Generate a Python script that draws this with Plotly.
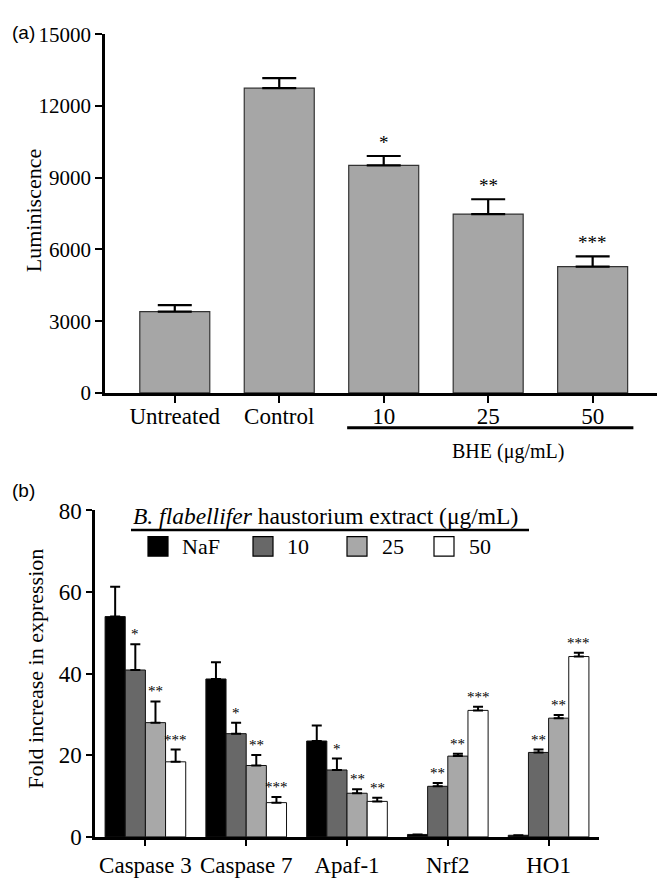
import plotly.graph_objects as go

# ---- Panel (a) data ----
a_categories = ["Untreated", "Control", "10", "25", "50"]
a_values = [3400, 12750, 9520, 7480, 5280]
a_errors = [270, 420, 390, 620, 430]
a_stars = ["", "", "*", "**", "***"]

# ---- Panel (b) data ----
b_genes = ["Caspase 3", "Caspase 7", "Apaf-1", "Nrf2", "HO1"]
b_series = ["NaF", "10", "25", "50"]
b_values = {
    "NaF": [54.0, 38.7, 23.5, 0.6, 0.4],
    "10": [40.9, 25.3, 16.4, 12.4, 20.7],
    "25": [28.0, 17.5, 10.7, 19.8, 29.1],
    "50": [18.4, 8.4, 8.7, 31.0, 44.2],
}
b_errors = {
    "NaF": [7.3, 4.1, 3.8, 0.0, 0.0],
    "10": [6.3, 2.7, 2.8, 0.8, 0.7],
    "25": [5.2, 2.6, 1.0, 0.6, 0.8],
    "50": [3.0, 1.4, 0.9, 0.9, 0.9],
}
b_stars = {
    "NaF": ["", "", "", "", ""],
    "10": ["*", "*", "*", "**", "**"],
    "25": ["**", "**", "**", "**", "**"],
    "50": ["***", "***", "**", "***", "***"],
}
b_colors = {"NaF": "#000000", "10": "#686868", "25": "#a8a8a8", "50": "#ffffff"}

SERIF = "Liberation Serif"
SANS = "Liberation Sans"

fig = go.Figure()

# Panel (a)
xa = list(range(len(a_categories)))
fig.add_trace(go.Bar(
    x=xa, y=a_values, xaxis="x", yaxis="y",
    marker=dict(color="#a6a6a6", line=dict(color="#333333", width=1.2)),
    error_y=dict(type="data", array=a_errors, arrayminus=[0] * 5, symmetric=False,
                 color="black", thickness=2.2, width=17),
    width=0.67, showlegend=False,
))

annotations = []
for i, s in enumerate(a_stars):
    if s:
        annotations.append(dict(x=xa[i], y=a_values[i] + a_errors[i], xref="x", yref="y",
                                text=s, showarrow=False, yanchor="bottom", yshift=1,
                                font=dict(family=SERIF, size=19, color="black")))

# Panel (b)
xb = list(range(len(b_genes)))
offsets = [-0.3, -0.1, 0.1, 0.3]
for k, name in enumerate(b_series):
    xs = [x + offsets[k] for x in xb]
    errs = b_errors[name]
    fig.add_trace(go.Bar(
        x=xs, y=b_values[name], xaxis="x2", yaxis="y2", name=name,
        marker=dict(color=b_colors[name], line=dict(color="#111111", width=1)),
        error_y=dict(type="data", array=errs, arrayminus=[0] * 5, symmetric=False,
                     color="black", thickness=2, width=5),
        width=0.2, showlegend=False,
    ))
    for i, s in enumerate(b_stars[name]):
        if s:
            annotations.append(dict(x=xs[i], y=b_values[name][i] + errs[i], xref="x2", yref="y2",
                                    text=s, showarrow=False, yanchor="bottom", yshift=0,
                                    font=dict(family=SERIF, size=15, color="black")))

# Panel labels
annotations.append(dict(x=10 / 657, y=1 - 21 / 881, xref="paper", yref="paper", text="(a)",
                        showarrow=False, xanchor="left", yanchor="middle",
                        font=dict(family=SANS, size=19, color="black")))
annotations.append(dict(x=10 / 657, y=1 - 492 / 881, xref="paper", yref="paper", text="(b)",
                        showarrow=False, xanchor="left", yanchor="middle",
                        font=dict(family=SANS, size=19, color="black")))

# Axis titles (as rotated annotations for exact placement)
annotations.append(dict(x=33 / 657, y=1 - 205 / 881, xref="paper", yref="paper",
                        text="Luminiscence", textangle=-90, showarrow=False,
                        xanchor="center", yanchor="middle",
                        font=dict(family=SERIF, size=22, color="black")))
annotations.append(dict(x=36 / 657, y=1 - 676 / 881, xref="paper", yref="paper",
                        text="Fold increase in expression", textangle=-90, showarrow=False,
                        xanchor="center", yanchor="middle",
                        font=dict(family=SERIF, size=22, color="black")))

# BHE label
annotations.append(dict(x=508 / 657, y=1 - 452 / 881, xref="paper", yref="paper",
                        text="BHE (μg/mL)", showarrow=False, xanchor="center", yanchor="middle",
                        font=dict(family=SERIF, size=20, color="black")))

# Legend title for (b)
annotations.append(dict(x=131 / 657, y=1 - 519 / 881, xref="paper", yref="paper",
                        text="<i>B. flabellifer</i> haustorium extract (μg/mL)", showarrow=False,
                        xanchor="left", yanchor="middle",
                        font=dict(family=SERIF, size=23.5, color="black")))

shapes = []
# BHE bracket line
shapes.append(dict(type="line", xref="x", yref="paper", x0=1.65, x1=4.39,
                   y0=1 - 428 / 881, y1=1 - 428 / 881, line=dict(color="black", width=3)))
# legend underline
shapes.append(dict(type="line", xref="paper", yref="paper", x0=131 / 657, x1=529 / 657,
                   y0=1 - 533 / 881, y1=1 - 533 / 881, line=dict(color="black", width=2.5)))

# Manual legend boxes
legend_box_x = [148, 253, 347, 434]
legend_text_x = [180, 285, 380, 467]
for k, name in enumerate(b_series):
    bx = legend_box_x[k]
    shapes.append(dict(type="rect", xref="paper", yref="paper",
                       x0=bx / 657, x1=(bx + 20) / 657, y0=1 - 560 / 881, y1=1 - 540 / 881,
                       fillcolor=b_colors[name], line=dict(color="black", width=1.2)))
    annotations.append(dict(x=legend_text_x[k] / 657, y=1 - 550 / 881, xref="paper", yref="paper",
                            text=name, showarrow=False, xanchor="left", yanchor="middle",
                            font=dict(family=SERIF, size=22, color="black")))

fig.update_layout(
    width=657, height=881,
    margin=dict(l=0, r=0, t=0, b=0),
    paper_bgcolor="white", plot_bgcolor="white",
    bargap=0.2,
    font=dict(family=SERIF, color="black"),
    xaxis=dict(domain=[105 / 657, 1.0], range=[-0.668, 4.616], tickvals=xa, ticktext=a_categories,
               showline=True, linecolor="black", linewidth=2.5, ticks="outside", ticklen=7,
               tickwidth=2, tickcolor="black", showgrid=False, zeroline=False,
               ticklabelstandoff=-6,
               tickfont=dict(family=SERIF, size=23), anchor="y", fixedrange=True),
    yaxis=dict(domain=[1 - 392 / 881, 1 - 23 / 881], range=[0, 15000],
               tickvals=[0, 3000, 6000, 9000, 12000, 15000], tickformat="d",
               showline=True, linecolor="black", linewidth=2.5, ticks="outside", ticklen=7,
               tickwidth=2, tickcolor="black", showgrid=False, zeroline=False,
               tickfont=dict(family=SERIF, size=21), anchor="x"),
    xaxis2=dict(domain=[95 / 657, 599 / 657], range=[-0.5, 4.5], tickvals=xb, ticktext=b_genes,
                showline=True, linecolor="black", linewidth=2.5, ticks="outside", ticklen=6,
                tickwidth=2, tickcolor="black", showgrid=False, zeroline=False,
                tickfont=dict(family=SERIF, size=23), anchor="y2"),
    yaxis2=dict(domain=[1 - 849 / 881, 1 - 513 / 881], range=[0, 80],
                tickvals=[0, 20, 40, 60, 80],
                showline=True, linecolor="black", linewidth=2.5, ticks="outside", ticklen=6,
                tickwidth=2, tickcolor="black", showgrid=False, zeroline=False,
                tickfont=dict(family=SERIF, size=23), anchor="x2"),
    annotations=annotations,
    shapes=shapes,
)

fig.write_html("out.html")
